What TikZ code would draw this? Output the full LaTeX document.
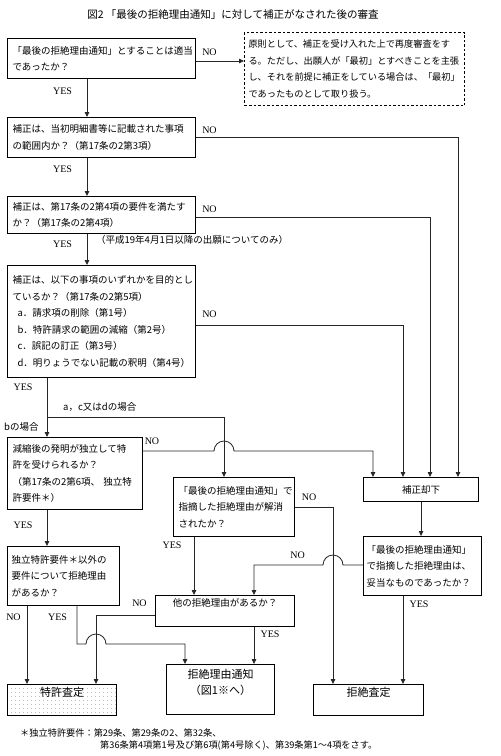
\documentclass[tikz,border=0pt]{standalone}
\usepackage{fontspec}
\setmainfont{Noto Sans CJK JP}
\newfontfamily\latf{Liberation Serif}
\usetikzlibrary{arrows.meta,patterns.meta}
\newcommand\fsA{\fontsize{9.5pt}{16.5pt}\selectfont}
\newcommand\fsB{\fontsize{9.2pt}{16.7pt}\selectfont}
\newcommand\fsC{\fontsize{11pt}{16pt}\selectfont}
\begin{document}
\begin{tikzpicture}[x=1pt,y=-1pt,
  box/.style={draw=black, line width=1.1pt, anchor=north west, inner xsep=5pt, inner ysep=3pt, align=left, font=\fsA},
  cbox/.style={box, align=center},
  dbox/.style={box, dash pattern=on 2.5pt off 2pt, line width=1pt, font=\fsB},
  conn/.style={line width=0.8pt, draw=black!85},
  arr/.style={conn, -{Triangle[length=5pt,width=4.5pt]}},
  lbl/.style={font=\latf\fontsize{10pt}{12pt}\selectfont, inner sep=0pt},
  txt/.style={font=\fsA, inner sep=0pt, anchor=west}]
\useasboundingbox (0,0) rectangle (501,756);

% title
\node[font=\fontsize{10.5pt}{12pt}\selectfont, inner sep=0pt] (title) at (233,15) {図2 「最後の拒絶理由通知」に対して補正がなされた後の審査};

% boxes
\node[box, minimum width=188pt, minimum height=40pt, text width=178pt] (b1) at (7,38)
  {「最後の拒絶理由通知」とすることは適当\\であったか？};
\node[dbox, minimum width=220pt, minimum height=73pt, text width=212pt, inner xsep=4pt] (nb) at (244,32)
  {原則として、補正を受け入れた上で再度審査をす\\る。ただし、出願人が「最初」とすべきことを主張\\し、それを前提に補正をしている場合は、「最初」\\であったものとして取り扱う。};
\node[box, minimum width=188pt, minimum height=40pt, text width=178pt] (b2) at (7,117)
  {補正は、当初明細書等に記載された事項\\の範囲内か？（第17条の2第3項）};
\node[box, minimum width=188pt, minimum height=37pt, text width=178pt] (b3) at (7,196)
  {補正は、第17条の2第4項の要件を満たす\\か？（第17条の2第4項）};
\node[box, minimum width=188pt, minimum height=112pt, text width=178pt] (b4) at (7,265)
  {補正は、以下の事項のいずれかを目的とし\\ているか？（第17条の2第5項）\\
   \hspace*{5pt}a．請求項の削除（第1号）\\
   \hspace*{5pt}b．特許請求の範囲の減縮（第2号）\\
   \hspace*{5pt}c．誤記の訂正（第3号）\\
   \hspace*{5pt}d．明りょうでない記載の釈明（第4号）};
\node[box, minimum width=135pt, minimum height=72pt, text width=125pt] (b5) at (7,437)
  {減縮後の発明が独立して特\\許を受けられるか？\\（第17条の2第6項、 独立特\\許要件＊）};
\node[box, minimum width=121pt, minimum height=59pt, text width=111pt, inner xsep=4pt] (b6) at (173,477)
  {「最後の拒絶理由通知」で\\指摘した拒絶理由が解消\\されたか？};
\node[cbox, minimum width=115pt, minimum height=24pt, text width=105pt] (kk) at (363,477) {補正却下};
\node[box, minimum width=118pt, minimum height=59pt, text width=112pt, inner xsep=3pt] (b8) at (363,536)
  {「最後の拒絶理由通知」\\で指摘した拒絶理由は、\\妥当なものであったか？};
\node[cbox, minimum width=139pt, minimum height=30pt, text width=129pt] (b7) at (155,595)
  {他の拒絶理由があるか？\\\mbox{}};
\node[box, minimum width=112pt, minimum height=59pt, text width=104pt, inner xsep=4pt] (b9) at (7,546)
  {独立特許要件＊以外の\\要件について拒絶理由\\があるか？};
\node[cbox, font=\fsC, minimum width=109pt, minimum height=30pt, text width=99pt,
      pattern={Dots[distance=4pt, radius=0.45pt]}, pattern color=black!60] (tk) at (7,684)
  {特許査定\\\mbox{}};
\node[cbox, font=\fsC, minimum width=108pt, minimum height=50pt, text width=98pt] (kr) at (166,664)
  {拒絶理由通知\\（図1※へ）\\\mbox{}};
\node[cbox, font=\fsC, minimum width=110pt, minimum height=30pt, text width=100pt] (ks) at (313,684)
  {拒絶査定\\\mbox{}};

% helper coordinates
\coordinate (cA) at (87,0);
\coordinate (cB) at (47,0);
\coordinate (jn) at (47,417);
\coordinate (c224) at (224,0);
\coordinate (c458) at (458,0);
\coordinate (c430) at (430,0);
\coordinate (c403) at (403,0);
\coordinate (c373) at (373,0);
\coordinate (c333) at (333,0);
\coordinate (c254) at (254,0);
\coordinate (c194) at (194,0);
\coordinate (c185) at (185,0);
\coordinate (c96) at (96,0);
\coordinate (c77) at (77,0);
\coordinate (c27) at (27,0);
\coordinate (r61) at (0,61);
\coordinate (r217) at (0,217);
\coordinate (r325) at (0,325);
\coordinate (r451) at (0,451);
\coordinate (r507) at (0,507);
\coordinate (r565) at (0,565);
\coordinate (r615) at (0,615);
\coordinate (r644) at (0,644);

% connectors
\draw[arr] (b1.south -| cA) -- (b2.north -| cA);
\draw[arr] (b1.east |- r61) -- (nb.west |- r61);
\draw[arr] (b2.south -| cA) -- (b3.north -| cA);
\draw[arr] (b3.south -| cA) -- (b4.north -| cA);
\draw[arr] (b2.east) -- (b2.east -| c458) -- (kk.north -| c458);
\draw[arr] (b3.east |- r217) -- (r217 -| c430) -- (kk.north -| c430);
\draw[arr] (b4.east |- r325) -- (r325 -| c403) -- (kk.north -| c403);
\draw[conn] (b4.south -| cB) -- (jn);
\draw[arr] (jn) -- (b5.north -| cB);
\draw[arr] (jn) -- (jn -| c224) -- (b6.north -| c224);
\draw[arr] (b5.east |- r451) -- ([xshift=-10pt]r451 -| c224) arc[start angle=180, end angle=0, radius=10pt] -- (r451 -| c373) -- (kk.north -| c373);
\draw[arr] (b6.east |- r507) -- (r507 -| c333) -- (ks.north -| c333);
\draw[arr] (b6.south -| c194) -- (b7.north -| c194);
\draw[arr] (kk.south) -- (kk.south |- b8.north);
\draw[arr] (b8.west |- r565) -- ([xshift=10pt]r565 -| c333) arc[start angle=0, end angle=180, radius=10pt] -- (r565 -| c254) -- (b7.north -| c254);
\draw[arr] (b8.south -| c403) -- (ks.north -| c403);
\draw[arr] (b7.south -| c254) -- (kr.north -| c254);
\draw[arr] (b7.west |- r615) -- (r615 -| c96) -- (tk.north -| c96);
\draw[arr] (b5.south -| cB) -- (b9.north -| cB);
\draw[arr] (b9.south -| c27) -- (tk.north -| c27);
\draw[arr] (b9.south -| c77) -- (r644 -| c77) -- ([xshift=-10pt]r644 -| c96) arc[start angle=180, end angle=0, radius=10pt] -- (r644 -| c185) -- (kr.north -| c185);

% YES / NO labels
\node[lbl] (n1) at (209.5,52) {NO};
\node[lbl] (y1) at (62.5,91) {YES};
\node[lbl] (n2) at (209.5,130) {NO};
\node[lbl] (y2) at (62.5,169) {YES};
\node[lbl] (n3) at (209.5,209) {NO};
\node[lbl] (y3) at (62.5,244) {YES};
\node[lbl] (n4) at (209.5,314) {NO};
\node[lbl] (y4) at (23,387) {YES};
\node[lbl] (n5) at (152,441) {NO};
\node[lbl] (y5) at (23,525) {YES};
\node[lbl] (n6) at (309,497) {NO};
\node[lbl] (y6) at (172,545) {YES};
\node[lbl] (n8) at (297.5,555) {NO};
\node[lbl] (y8) at (419,604) {YES};
\node[lbl] (y7) at (270,634) {YES};
\node[lbl] (n7) at (139.5,603) {NO};
\node[lbl] (n9) at (13.5,617) {NO};
\node[lbl] (y9) at (57.5,617) {YES};

% other texts
\node[txt] (note1) at (96,240) {（平成19年4月1日以降の出願についてのみ）};
\node[txt] (case1) at (63,407) {a，c又はdの場合};
\node[txt] (case2) at (4,427) {bの場合};
\node[txt, font=\fontsize{9.2pt}{12pt}\selectfont] (fn1) at (20,733) {＊独立特許要件：第29条、第29条の2、第32条、};
\node[txt, font=\fontsize{9.2pt}{12pt}\selectfont] (fn2) at (100,746) {第36条第4項第1号及び第6項(第4号除く)、第39条第1～4項をさす。};
\end{tikzpicture}
\end{document}
